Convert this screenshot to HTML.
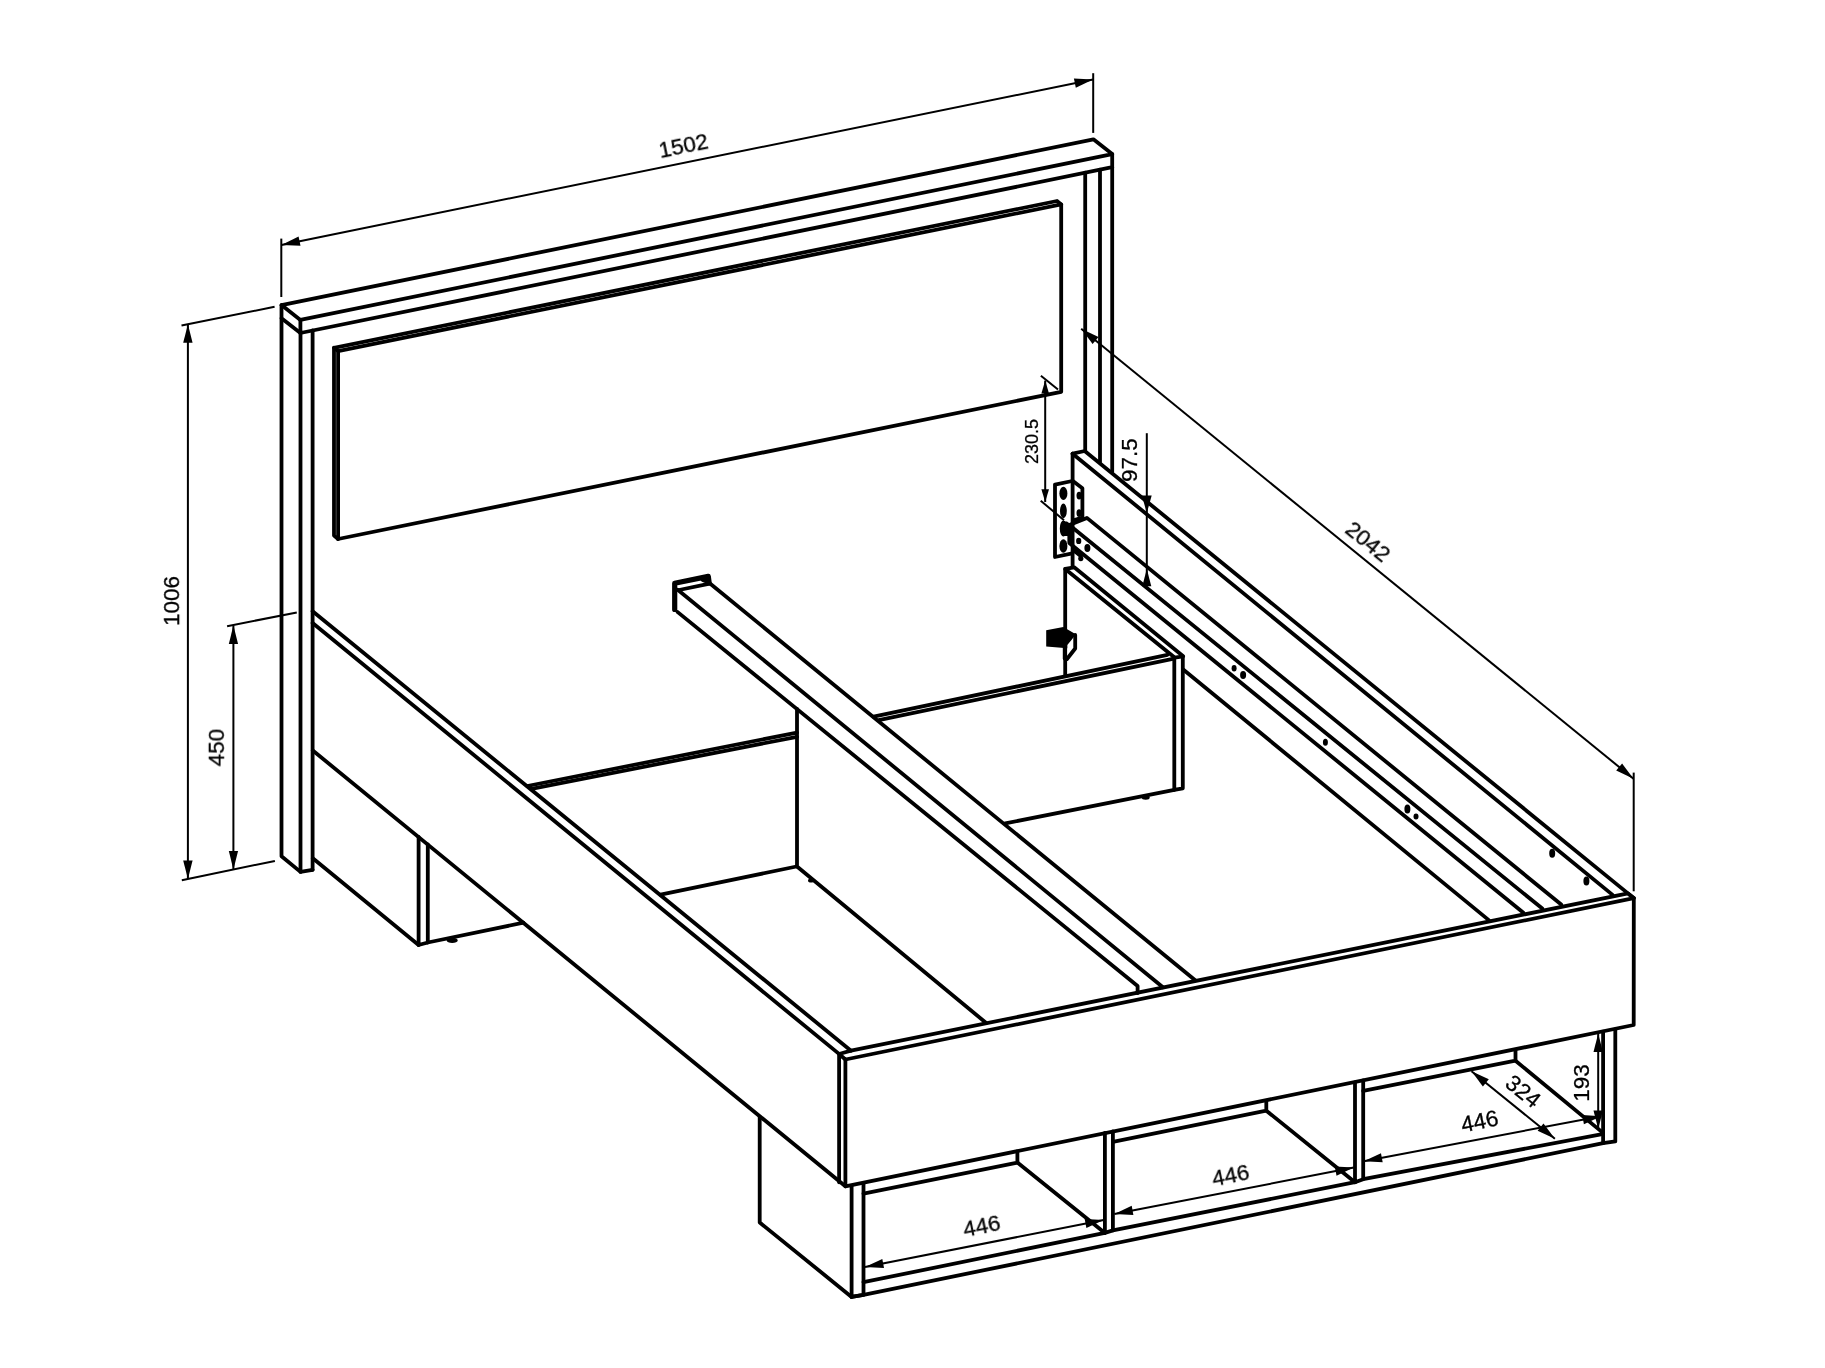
<!DOCTYPE html>
<html><head><meta charset="utf-8"><title>Bed drawing</title>
<style>html,body{margin:0;padding:0;background:#fff}svg{display:block}</style></head>
<body>
<svg width="1825" height="1368" viewBox="0 0 1825 1368">
<rect width="100%" height="100%" fill="#fff"/>
<g fill="none" stroke="#000" stroke-width="3.8" stroke-linecap="round" stroke-linejoin="round">
<path d="M281.5,305.1 L1093.4,139.3 L1112.2,154.1 L300.4,319.9 L281.5,305.1"/>
<path d="M300.4,319.9 L300.4,333.0 L1112.2,167.2 L1112.2,154.1"/>
<path d="M281.5,305.1 L281.5,318.2 L300.4,333.0"/>
<path d="M281.5,318.2 L281.5,856.2 L300.5,871.9 L312.6,869.8"/>
<path d="M300.5,333.0 L300.5,871.9"/>
<path d="M312.6,330.5 L312.6,869.8"/>
<path d="M1085.2,172.7 L1085.2,451.3"/>
<path d="M1100.0,169.7 L1100.0,462.0"/>
<path d="M1112.2,167.2 L1112.2,471.9"/>
<path d="M338.1,351.1 L1061.2,204.4 L1061.2,391.8 L338.1,539.0 L338.1,351.1"/>
<path d="M338.1,539.0 L334.0,535.6 L334.0,347.8 L1057.0,201.0 L1061.2,204.4"/>
<path d="M334.0,347.8 L338.1,351.1"/>
<path d="M312.6,611.3 L851.0,1050.7"/>
<path d="M312.6,623.0 L838.4,1053.4"/>
<path d="M312.8,750.5 L845.4,1186.3"/>
<path d="M312.8,858.2 L418.6,945.0"/>
<path d="M418.6,836.9 L418.6,945.0 L427.8,942.5 L427.8,844.4"/>
<path d="M427.8,942.5 L523.5,922.7"/>
<path d="M839.1,1054.0 L851.0,1050.7 L1628.0,893.4 L1633.8,898.1 L845.4,1059.5 L839.1,1054.0"/>
<path d="M839.1,1054.0 L839.1,1182.3"/>
<path d="M845.4,1059.5 L845.4,1186.3 L1633.7,1025.0 L1633.8,898.1"/>
<path d="M710.0,583.5 L1195.2,980.3"/>
<path d="M677.7,589.7 L1162.9,987.2"/>
<path d="M677.7,612.1 L1137.6,986.0 L1137.6,993.0"/>
<path d="M679.0,590.0 L708.5,583.8"/>
<path d="M797.0,709.0 L797.0,866.5 L986.2,1023.0"/>
<path d="M527.3,786.0 L797.0,732.6"/>
<path d="M531.5,788.8 L797.0,736.8"/>
<path d="M660.6,894.6 L796.5,866.5"/>
<path d="M873.6,716.6 L1167.4,654.9"/>
<path d="M878.8,720.2 L1173.9,658.6"/>
<path d="M1174.3,657.6 L1174.3,789.9 L1182.8,788.3 L1182.8,656.3"/>
<path d="M1005.3,823.4 L1174.3,789.9"/>
<path d="M1065.2,568.9 L1065.2,675.5"/>
<path d="M1065.2,568.9 L1074.2,567.3 L1183.2,656.3 L1174.6,657.6 L1065.2,568.9"/>
<path d="M1072.6,453.7 L1084.7,451.0 L1633.8,898.1"/>
<path d="M1072.6,453.7 L1612.6,894.9"/>
<path d="M1072.6,453.7 L1072.6,567.2"/>
<path d="M1069.3,525.0 L1086.9,517.9 L1561.2,904.5"/>
<path d="M1069.3,525.0 L1542.3,908.6"/>
<path d="M1069.3,525.0 L1069.3,543.0 L1523.4,912.7"/>
<path d="M1183.2,669.5 L1488.8,920.1"/>
<path d="M1055,484.6 L1072.2,481 M1055,484.6 L1055,557 L1072.2,553.3"/>
<path d="M1072.9,481 L1082.4,488.3 L1082.4,517.5 L1073.6,520.4"/>
<path d="M1074.5,551.0 L1081.0,556.3"/>
<path d="M1075.2,635.0 L1075.2,648.5 L1067.0,659.0"/>
<path d="M1064.7,646 L1064.7,658.5"/>
<path d="M759.7,1117.0 L759.7,1222.5 L851.6,1296.9"/>
<path d="M851.6,1186.0 L851.6,1296.9 L863.5,1294.9 L863.5,1183.6"/>
<path d="M851.6,1296.9 L863.5,1294.9 L1603.1,1143.2"/>
<path d="M863.5,1282.2 L1104.9,1232.9"/>
<path d="M1112.9,1230.4 L1355.0,1182.2"/>
<path d="M1363.2,1179.2 L1600.9,1134.4"/>
<path d="M863.5,1193.6 L1017.4,1162.6 L1017.4,1151.5"/>
<path d="M1017.4,1162.6 L1104.9,1232.9"/>
<path d="M1104.9,1133.0 L1104.9,1232.9 L1112.9,1230.4 L1112.9,1131.5"/>
<path d="M1112.9,1141.8 L1266.3,1110.7 L1266.3,1100.8"/>
<path d="M1266.3,1110.7 L1355.0,1182.2"/>
<path d="M1355.0,1082.3 L1355.0,1182.2 L1363.2,1179.2 L1363.2,1080.5"/>
<path d="M1363.2,1090.9 L1515.5,1060.7 L1515.5,1050.6"/>
<path d="M1515.5,1060.7 L1601.2,1131.4"/>
<path d="M1603.1,1031.6 L1603.1,1143.2 L1615.3,1141.4 L1615.3,1029.3"/>
</g>
<g fill="none" stroke="#000" stroke-width="5.2" stroke-linecap="round" stroke-linejoin="round">
<path d="M674.7,609.5 L674.7,583.3 L708.3,576.4 L709.2,583 M703.5,579.6 L708.6,581.6"/>
</g>
<g fill="none" stroke="#000" stroke-width="2" stroke-linecap="butt">
<path d="M281.4,244.9 L1093.0,79.5"/>
<path d="M281.3,238.6 L281.3,297.0"/>
<path d="M1093.2,73.2 L1093.2,132.9"/>
<path d="M187.9,324.2 L187.9,879.0"/>
<path d="M181.5,325.5 L274.6,306.8"/>
<path d="M181.8,880.3 L274.9,860.9"/>
<path d="M233.4,625.5 L233.4,869.5"/>
<path d="M227.1,626.2 L296.8,612.4"/>
<path d="M1081.2,328.8 L1633.5,778.7"/>
<path d="M1633.7,772.6 L1633.7,891.3"/>
<path d="M1045.2,380.6 L1045.2,502.0"/>
<path d="M1040.9,375.7 L1058.0,389.5"/>
<path d="M1040.7,500.7 L1064.0,520.3"/>
<path d="M1146.8,433.2 L1146.8,586.0"/>
<path d="M865.0,1267.0 L1103.7,1220.0"/>
<path d="M1114.4,1213.9 L1353.8,1167.6"/>
<path d="M1363.7,1161.2 L1601.2,1116.2"/>
<path d="M1471.5,1071.2 L1554.9,1138.8"/>
<path d="M1598.2,1033.5 L1598.2,1128.9"/>
</g>
<g fill="#000" stroke="none">
<path d="M446.7,940.4 a5.5,2.6 0 1,0 11.0,0 a5.5,2.6 0 1,0 -11.0,0Z"/>
<path d="M808.0,880.5 a3,2 0 1,0 6,0 a3,2 0 1,0 -6,0Z"/>
<path d="M1141.7,797.5 a4,2.2 0 1,0 8,0 a4,2.2 0 1,0 -8,0Z"/>
<path d="M1076.1,540.9 a2.6,3.2 0 1,0 5.2,0 a2.6,3.2 0 1,0 -5.2,0Z"/>
<path d="M1084.4,548.0 a3,4 0 1,0 6,0 a3,4 0 1,0 -6,0Z"/>
<path d="M1231.6,668.3 a2.5,3.2 0 1,0 5.0,0 a2.5,3.2 0 1,0 -5.0,0Z"/>
<path d="M1240.1,674.9 a3,4 0 1,0 6,0 a3,4 0 1,0 -6,0Z"/>
<path d="M1322.9,742.3 a2.5,3.5 0 1,0 5.0,0 a2.5,3.5 0 1,0 -5.0,0Z"/>
<path d="M1404.4,809.1 a3,4.5 0 1,0 6,0 a3,4.5 0 1,0 -6,0Z"/>
<path d="M1413.5,816.5 a2.5,3 0 1,0 5.0,0 a2.5,3 0 1,0 -5.0,0Z"/>
<path d="M1549.2,853.2 a3,4.5 0 1,0 6,0 a3,4.5 0 1,0 -6,0Z"/>
<path d="M1583.4,881.1 a3,4.5 0 1,0 6,0 a3,4.5 0 1,0 -6,0Z"/>
<path d="M1059.4,493.4 a4,6.6 0 1,0 8,0 a4,6.6 0 1,0 -8,0Z"/>
<path d="M1060.0,510.9 a3.4,7.3 0 1,0 6.8,0 a3.4,7.3 0 1,0 -6.8,0Z"/>
<path d="M1059.4,546.0 a4,6.8 0 1,0 8,0 a4,6.8 0 1,0 -8,0Z"/>
<path d="M1063,521.5 h4 l3.5,2.5 v12 h-7.5z"/>
<path d="M1059.8,528.5 a3.6,8 0 1,0 7.2,0 a3.6,8 0 1,0 -7.2,0Z"/>
<path d="M1076.5,495.6 a2.6,3.9 0 1,0 5.2,0 a2.6,3.9 0 1,0 -5.2,0Z"/>
<path d="M1076.5,513.1 a2.6,3.9 0 1,0 5.2,0 a2.6,3.9 0 1,0 -5.2,0Z"/>
<path d="M1078.2,558.6 a2.6,2.6 0 1,0 5.2,0 a2.6,2.6 0 1,0 -5.2,0Z"/>
<path d="M1046.2,630.2 L1063.3,627.1 L1075.8,634.3 L1071.7,639.8 L1067.3,645.1 L1067.3,648.2 L1046.2,646.4Z"/>
<path d="M281.4,244.9 L298.6,236.6 L300.5,245.8Z"/>
<path d="M1093.0,79.5 L1075.8,87.8 L1073.9,78.6Z"/>
<path d="M187.9,324.2 L192.6,342.7 L183.2,342.7Z"/>
<path d="M187.9,879.0 L183.2,860.5 L192.6,860.5Z"/>
<path d="M233.4,625.5 L238.1,644.0 L228.8,644.0Z"/>
<path d="M233.4,869.5 L228.8,851.0 L238.1,851.0Z"/>
<path d="M1081.2,328.8 L1098.5,336.9 L1092.6,344.1Z"/>
<path d="M1633.5,778.7 L1616.2,770.6 L1622.1,763.4Z"/>
<path d="M1045.2,380.6 L1049.0,393.4 L1041.4,393.4Z"/>
<path d="M1045.2,502.0 L1041.4,489.2 L1049.0,489.2Z"/>
<path d="M1146.8,513.0 L1141.9,495.5 L1151.7,495.5Z"/>
<path d="M1146.8,569.0 L1151.3,586.2 L1142.3,586.2Z"/>
<path d="M865.0,1267.0 L882.3,1258.9 L884.0,1268.0Z"/>
<path d="M1103.7,1220.0 L1086.4,1228.1 L1084.7,1219.0Z"/>
<path d="M1114.4,1213.9 L1131.7,1205.8 L1133.4,1215.0Z"/>
<path d="M1353.8,1167.6 L1336.5,1175.7 L1334.8,1166.5Z"/>
<path d="M1363.7,1161.2 L1381.0,1153.2 L1382.7,1162.3Z"/>
<path d="M1601.2,1116.2 L1583.9,1124.2 L1582.2,1115.1Z"/>
<path d="M1471.5,1071.2 L1488.8,1079.2 L1482.9,1086.5Z"/>
<path d="M1554.9,1138.8 L1537.6,1130.8 L1543.5,1123.5Z"/>
<path d="M1598.2,1033.5 L1602.9,1052.0 L1593.5,1052.0Z"/>
<path d="M1598.2,1128.9 L1593.5,1110.4 L1602.9,1110.4Z"/>
</g>
<g opacity="0.999" fill="#000" stroke="#000" stroke-width="0.3" font-family="'Liberation Sans', sans-serif">
<text x="0" y="0" transform="translate(683.3,145.2) rotate(-11.5)" font-size="22.5" text-anchor="middle" dominant-baseline="central">1502</text>
<text x="0" y="0" transform="translate(171.1,601.0) rotate(-90.0)" font-size="22.5" text-anchor="middle" dominant-baseline="central">1006</text>
<text x="0" y="0" transform="translate(215.9,747.6) rotate(-90.0)" font-size="22.5" text-anchor="middle" dominant-baseline="central">450</text>
<text x="0" y="0" transform="translate(1368.3,541.2) rotate(39.2)" font-size="22.5" text-anchor="middle" dominant-baseline="central">2042</text>
<text x="0" y="0" transform="translate(1031.8,441.4) rotate(-90.0)" font-size="18" text-anchor="middle" dominant-baseline="central">230.5</text>
<text x="0" y="0" transform="translate(1129.0,460.2) rotate(-90.0)" font-size="22.5" text-anchor="middle" dominant-baseline="central">97.5</text>
<text x="0" y="0" transform="translate(981.6,1225.5) rotate(-11.4)" font-size="22.5" text-anchor="middle" dominant-baseline="central">446</text>
<text x="0" y="0" transform="translate(1230.5,1174.8) rotate(-11.4)" font-size="22.5" text-anchor="middle" dominant-baseline="central">446</text>
<text x="0" y="0" transform="translate(1479.6,1121.5) rotate(-11.4)" font-size="22.5" text-anchor="middle" dominant-baseline="central">446</text>
<text x="0" y="0" transform="translate(1523.0,1091.6) rotate(39.0)" font-size="22.5" text-anchor="middle" dominant-baseline="central">324</text>
<text x="0" y="0" transform="translate(1581.0,1082.9) rotate(-90.0)" font-size="22.5" text-anchor="middle" dominant-baseline="central">193</text>
</g>

</svg>
</body></html>
